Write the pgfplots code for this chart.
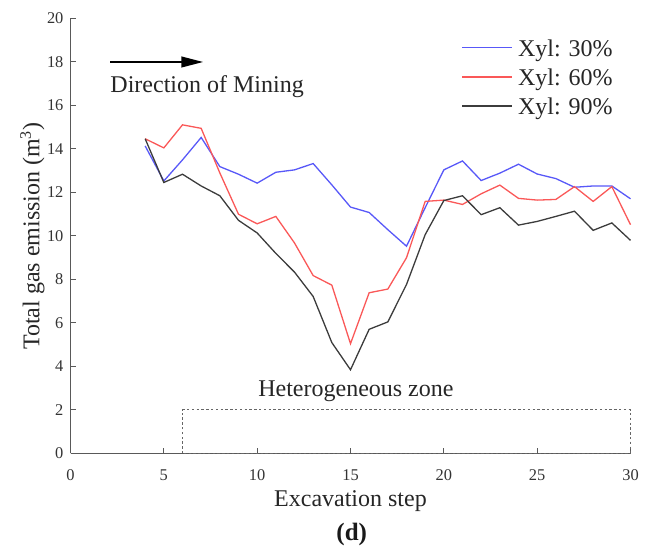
\documentclass[border=0pt]{standalone}
\usepackage{fontspec}
\setmainfont{Liberation Serif}
\usepackage{pgfplots}
\pgfplotsset{compat=1.18}
\usetikzlibrary{arrows.meta}

\definecolor{xylblue}{RGB}{88,88,248}
\definecolor{xylred}{RGB}{250,88,88}
\definecolor{xylblack}{RGB}{60,60,60}

\begin{document}
\begin{tikzpicture}
\begin{axis}[
  at={(0,0)}, anchor=south west,
  scale only axis, width=280pt, height=217.5pt,
  xmin=0, xmax=30, ymin=0, ymax=20,
  clip=false,
  axis lines*=left,
  axis line style={-, black!65, line width=0.5pt},
  xtick={0,5,...,30}, ytick={0,2,...,20},
  tick align=inside, major tick length=2.8pt,
  tick style={black!65, line width=0.5pt},
  /pgf/number format/assume math mode=true,
  ticklabel style={font=\fontsize{8.2}{9}\selectfont, text=black!80},
  xticklabel style={yshift=-4.5pt},
  xlabel={Excavation step},
  ylabel={Total gas emission (m\textsuperscript{3})},
  label style={font=\fontsize{12}{14}\selectfont, text=black!85, inner sep=0pt},
  xlabel style={at={(axis description cs:0.5,-0.1207)}, anchor=base},
  ylabel style={at={(axis description cs:-0.0554,0.5)}, anchor=base},
  legend style={draw=none, fill=none,
    at={(axis description cs:0.6986,0.955)}, anchor=north west,
    inner sep=0pt, outer sep=0pt, row sep=2.6pt, column sep=2.5pt,
    font=\fontsize{12}{14}\selectfont, text=black!85,
    cells={anchor=base west},
    nodes={inner sep=0pt, text height=9pt, text depth=3pt}},
  legend image code/.code={\draw[#1] (0pt,4.2pt) -- (25pt,4.2pt);},
]

% Xyl 30 %
\addplot[xylblue, line width=0.65pt] coordinates {
  (4,14.14) (5,12.53) (6,13.50) (7,14.53) (8,13.19) (9,12.84) (10,12.43)
  (11,12.93) (12,13.04) (13,13.33) (14,12.35) (15,11.33) (16,11.08)
  (17,10.29) (18,9.53) (19,11.30) (20,13.04) (21,13.45) (22,12.55)
  (23,12.89) (24,13.30) (25,12.85) (26,12.64) (27,12.24) (28,12.30)
  (29,12.30) (30,11.71)};
\addlegendentry{Xyl: 30\%}

% Xyl 60 %
\addplot[xylred, line width=0.65pt] coordinates {
  (4,14.47) (5,14.05) (6,15.11) (7,14.95) (8,12.90) (9,11.00) (10,10.56)
  (11,10.90) (12,9.68) (13,8.18) (14,7.74) (15,5.05) (16,7.39)
  (17,7.56) (18,9.00) (19,11.59) (20,11.65) (21,11.45) (22,11.94)
  (23,12.34) (24,11.73) (25,11.65) (26,11.68) (27,12.27) (28,11.59)
  (29,12.27) (30,10.52)};
\addlegendentry{Xyl: 60\%}

% Xyl 90 %
\addplot[xylblack, line width=0.65pt] coordinates {
  (4,14.47) (5,12.46) (6,12.84) (7,12.30) (8,11.85) (9,10.72) (10,10.14)
  (11,9.20) (12,8.34) (13,7.22) (14,5.10) (15,3.85) (16,5.71)
  (17,6.05) (18,7.77) (19,10.06) (20,11.63) (21,11.85) (22,10.98)
  (23,11.30) (24,10.50) (25,10.67) (26,10.90) (27,11.14) (28,10.26)
  (29,10.60) (30,9.80)};
\addlegendentry{Xyl: 90\%}

% mining direction
\draw[black, line width=0.7pt, -{Triangle[length=10.8pt,width=5.4pt]}]
  (axis cs:2.12,18) -- (axis cs:7.1,18);
\node[anchor=base west, inner sep=0pt, font=\fontsize{12}{14}\selectfont, text=black!85]
  at (axis cs:2.12,16.62) {Direction of Mining};

% heterogeneous zone
\draw[black!60, line width=0.5pt, dash pattern=on 1.2pt off 1.2pt]
  (axis cs:6,0) rectangle (axis cs:30,2);
\node[anchor=base west, inner sep=0pt, font=\fontsize{12}{14}\selectfont, text=black!85]
  at (axis cs:10.04,2.62) {Heterogeneous zone};
\end{axis}

\node[anchor=base, inner sep=0pt, font=\bfseries\fontsize{12.5}{14}\selectfont, text=black!90]
  at (140.6pt,-43.5pt) {(d)};

\pgfresetboundingbox
\path[use as bounding box] (-35.25pt,-47.75pt) rectangle (287.75pt,226.75pt);
\end{tikzpicture}
\end{document}
